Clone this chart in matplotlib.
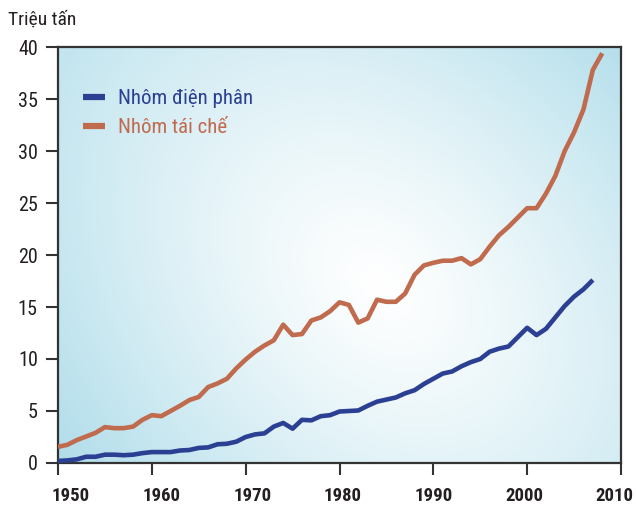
import numpy as np
import matplotlib
matplotlib.use("Agg")
import matplotlib.pyplot as plt
import matplotlib.transforms as mtransforms
from matplotlib import font_manager as fm

years_primary = list(range(1950, 2008))
primary = [0.2, 0.25, 0.35, 0.6, 0.6, 0.8, 0.8, 0.75, 0.8, 0.95,
           1.05, 1.05, 1.05, 1.2, 1.25, 1.45, 1.5, 1.8, 1.85, 2.05,
           2.5, 2.75, 2.85, 3.5, 3.85, 3.3, 4.15, 4.1, 4.5, 4.6,
           4.95, 5.0, 5.05, 5.5, 5.9, 6.1, 6.3, 6.7, 7.0, 7.6,
           8.1, 8.6, 8.8, 9.3, 9.7, 10.0, 10.7, 11.0, 11.2, 12.1,
           13.0, 12.3, 12.9, 14.0, 15.1, 16.0, 16.7, 17.6]

years_recycled = list(range(1950, 2009))
recycled = [1.55, 1.75, 2.2, 2.55, 2.9, 3.45, 3.35, 3.35, 3.5, 4.15,
            4.6, 4.5, 5.0, 5.5, 6.05, 6.35, 7.3, 7.65, 8.1, 9.1,
            9.95, 10.7, 11.3, 11.8, 13.3, 12.3, 12.4, 13.7, 14.0, 14.6,
            15.45, 15.2, 13.5, 13.9, 15.7, 15.5, 15.5, 16.3, 18.1, 19.0,
            19.25, 19.45, 19.45, 19.7, 19.1, 19.6, 20.8, 21.9, 22.7, 23.6,
            24.5, 24.5, 25.9, 27.6, 30.0, 31.8, 34.0, 37.8, 39.4]

series_labels = ["Nhôm điện phân", "Nhôm tái chế"]
y_label = "Triệu tấn"
x_ticks = [1950, 1960, 1970, 1980, 1990, 2000, 2010]
y_ticks = [0, 5, 10, 15, 20, 25, 30, 35, 40]

# pick a condensed font if one exists
names = {f.name for f in fm.fontManager.ttflist}
family = None
stretch = 'normal'
for cand in ['Liberation Sans Narrow', 'Roboto Condensed', 'Open Sans Condensed',
             'Noto Sans Condensed', 'DejaVu Sans Condensed']:
    if cand in names:
        family = cand
        break
if family is None:
    cond = [f for f in fm.fontManager.ttflist
            if str(f.stretch) in ('condensed', 'semi-condensed', 'extra-condensed', '87.5', '75')
            and 'Mono' not in f.name and 'Serif' not in f.name]
    if cond:
        family = cond[0].name
        stretch = 'condensed'
if family is None:
    family = 'Roboto' if 'Roboto' in names else 'DejaVu Sans'
plt.rcParams['font.family'] = [family, 'DejaVu Sans']
plt.rcParams['font.stretch'] = stretch

BLUE = "#2b3f93"
ORANGE = "#c06a4e"
TXT = "#231f20"
SPINE = "#333333"

fig = plt.figure(figsize=(6.36, 5.08), dpi=100)
W, H = 636, 508
ax = fig.add_axes([58 / W, 1 - 463 / H, (621 - 58) / W, (463 - 47) / H])

# gradient background
nx, ny = 300, 220
px = np.linspace(58, 621, nx)
py = np.linspace(47, 463, ny)
PX, PY = np.meshgrid(px, py)
cx, cy = 380, 285
dx, dy = PX - cx, PY - cy
s = 1 / np.sqrt(2)
maj = (dx + dy) * s
mnr = (dx - dy) * s
f = np.sqrt((maj / 500) ** 2 + (mnr / 360) ** 2)
f = np.clip(f, 0, 1) ** 1.2
c0 = np.array([1.0, 1.0, 1.0])
c1 = np.array([176, 221, 234]) / 255
img = c0[None, None, :] * (1 - f[..., None]) + c1[None, None, :] * f[..., None]
ax.imshow(img, extent=[1950, 2010, 0, 40], aspect='auto', origin='upper', zorder=0)

ax.plot(years_primary, primary, color=BLUE, lw=3.3, solid_joinstyle='round',
        solid_capstyle='butt', label=series_labels[0], zorder=3)
ax.plot(years_recycled, recycled, color=ORANGE, lw=3.3, solid_joinstyle='round',
        solid_capstyle='butt', label=series_labels[1], zorder=3)

ax.set_xlim(1950, 2010)
ax.set_ylim(0, 40)
ax.set_xticks(x_ticks)
ax.set_yticks(y_ticks)
ax.set_xticklabels([str(t) for t in x_ticks], fontweight='bold', fontsize=13.5, color=TXT)
ax.set_yticklabels([str(t) for t in y_ticks], fontsize=14.5, color=TXT)
ax.tick_params(axis='y', length=8.5, width=1.5, color=SPINE, pad=6)
ax.tick_params(axis='x', length=8.5, width=1.5, color=SPINE, pad=9)
for sp in ax.spines.values():
    sp.set_color(SPINE)
    sp.set_linewidth(1.6)

offs = [13, 9.8, 6.6, 3.4, 0.2, -3.0, -6.2]
for lab, o in zip(ax.get_xticklabels(), offs):
    lab.set_transform(lab.get_transform() + mtransforms.ScaledTranslation(o / 100, 0, fig.dpi_scale_trans))

leg = ax.legend(loc='upper left', bbox_to_anchor=(25 / 563, (463 - 89) / 416),
                frameon=False, fontsize=15, handlelength=1.05, handletextpad=0.65,
                labelspacing=0.5, borderpad=0, borderaxespad=0, labelcolor='linecolor')
for h in leg.get_lines():
    h.set_linewidth(4.5)

fig.text(8 / W, 1 - 25 / H, y_label, fontsize=14, color=TXT, ha='left', va='baseline')

fig.savefig("out.png", dpi=100)
